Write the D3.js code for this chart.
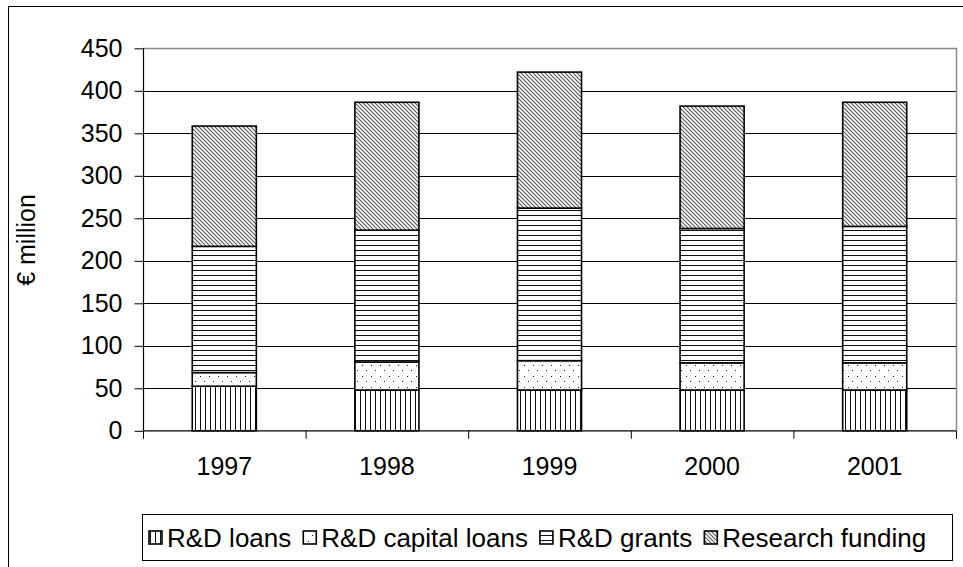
<!DOCTYPE html>
<html><head><meta charset="utf-8">
<script src="https://cdn.jsdelivr.net/npm/d3@7"></script>
<style>
body{margin:0;background:#fff}
svg{display:block}
text{font-family:"Liberation Sans",Arial,sans-serif;fill:#000}
</style>
</head><body>
<svg id="c" width="963" height="567"></svg>
<script>
const years = ["1997", "1998", "1999", "2000", "2001"];
const seriesNames = ["R&D loans", "R&D capital loans", "R&D grants", "Research funding"];
const rdLoans = [52.5, 48, 48, 48, 48];
const rdCapitalLoans = [16, 33, 34.5, 32, 32];
const rdGrants = [148.5, 155, 179.5, 158, 160.5];
const researchFunding = [141.5, 150.5, 160, 144, 146];
const yTicks = [0, 50, 100, 150, 200, 250, 300, 350, 400, 450];
const yTitle = "€ million";

const svg = d3.select("#c");
const L = 143, R = 956, T = 48.3, B = 430.8;

const table = years.map((y, i) => ({
  year: y,
  "R&D loans": rdLoans[i],
  "R&D capital loans": rdCapitalLoans[i],
  "R&D grants": rdGrants[i],
  "Research funding": researchFunding[i]
}));

const x = d3.scaleBand().domain(years).range([L, R]).paddingInner(0.606).paddingOuter(0.303);
const y = d3.scaleLinear().domain([0, 450]).range([B, T]);

// patterns
const defs = svg.append("defs");
const pV = defs.append("pattern").attr("id", "pLoans").attr("patternUnits", "userSpaceOnUse")
  .attr("width", 5).attr("height", 10);
pV.append("rect").attr("width", 5).attr("height", 10).attr("fill", "#fff");
pV.append("line").attr("x1", 0.5).attr("x2", 0.5).attr("y1", 0).attr("y2", 10).attr("stroke", "#111").attr("stroke-width", 1);

const pD = defs.append("pattern").attr("id", "pCap").attr("patternUnits", "userSpaceOnUse")
  .attr("width", 9).attr("height", 11);
pD.append("rect").attr("width", 9).attr("height", 11).attr("fill", "#fff");
pD.append("rect").attr("x", 2).attr("y", 2).attr("width", 1).attr("height", 1).attr("fill", "#222");
pD.append("rect").attr("x", 6).attr("y", 7).attr("width", 1).attr("height", 1).attr("fill", "#222");

const pH = defs.append("pattern").attr("id", "pGrants").attr("patternUnits", "userSpaceOnUse")
  .attr("width", 10).attr("height", 5);
pH.append("rect").attr("width", 10).attr("height", 5).attr("fill", "#fff");
pH.append("line").attr("x1", 0).attr("x2", 10).attr("y1", 0.5).attr("y2", 0.5).attr("stroke", "#111").attr("stroke-width", 1);

const pR = defs.append("pattern").attr("id", "pRes").attr("patternUnits", "userSpaceOnUse")
  .attr("width", 4).attr("height", 4);
pR.append("rect").attr("width", 4).attr("height", 4).attr("fill", "#fff");
pR.append("path").attr("d", "M-1,-1L5,5M-1,3L1,5M3,-1L5,1").attr("stroke", "#555").attr("stroke-width", 1.1);

const fills = {"R&D loans": "url(#pLoans)", "R&D capital loans": "url(#pCap)", "R&D grants": "url(#pGrants)", "Research funding": "url(#pRes)"};

// outer border
svg.append("rect").attr("x", 8.5).attr("y", 6.5).attr("width", 1000).attr("height", 1000)
  .attr("fill", "none").attr("stroke", "#000").attr("stroke-width", 1);

// gridlines
svg.append("g").selectAll("line").data(yTicks.filter(t => t > 0 && t < 450)).join("line")
  .attr("x1", L).attr("x2", R).attr("y1", d => Math.round(y(d)) + 0.5).attr("y2", d => Math.round(y(d)) + 0.5)
  .attr("stroke", "#000").attr("stroke-width", 1);

// plot border top/right
svg.append("path").attr("d", `M${L},${Math.round(T) + 0.5}H${R + 0.5}V${B}`)
  .attr("fill", "none").attr("stroke", "#888").attr("stroke-width", 1.5);

// bars
const stack = d3.stack().keys(seriesNames)(table);
svg.append("g").selectAll("g").data(stack).join("g")
  .attr("fill", d => fills[d.key])
  .selectAll("rect").data(d => d).join("rect")
  .attr("x", d => x(d.data.year))
  .attr("width", x.bandwidth())
  .attr("y", d => y(d[1]))
  .attr("height", d => y(d[0]) - y(d[1]))
  .attr("stroke", "#000").attr("stroke-width", 1.6);

// y axis
const yAxis = d3.axisLeft(y).tickValues(yTicks).tickSize(9).tickPadding(12).tickFormat(d3.format("d"));
const gy = svg.append("g").attr("transform", `translate(${L + 0.5},0)`).call(yAxis);
gy.select(".domain").attr("stroke", "#000").attr("stroke-width", 1.2).attr("d", `M0,${T}V${B}`);
gy.selectAll(".tick line").attr("stroke", "#000");
gy.selectAll(".tick text").style("font-size", "25px").style("font-family", '"Liberation Sans",Arial,sans-serif').attr("fill", "#000");

// x axis
const xAxis = d3.axisBottom(x).tickSize(0).tickPadding(26);
const gx = svg.append("g").attr("transform", `translate(0,${B})`).call(xAxis);
gx.select(".domain").attr("stroke", "#000").attr("stroke-width", 1.2).attr("d", `M${L},0H${R}`);
gx.selectAll(".tick text").style("font-size", "25px").style("font-family", '"Liberation Sans",Arial,sans-serif').attr("fill", "#000");
// category boundary ticks
const step = x.step();
svg.append("g").selectAll("line").data(d3.range(years.length + 1)).join("line")
  .attr("x1", i => L + 0.5 + i * step).attr("x2", i => L + 0.5 + i * step)
  .attr("y1", B).attr("y2", B + 8).attr("stroke", "#000").attr("stroke-width", 1);

// y title
svg.append("text").attr("transform", "translate(35,240) rotate(-90)")
  .attr("text-anchor", "middle").style("font-size", "25px").text(yTitle);

// legend
const lg = svg.append("g");
lg.append("rect").attr("x", 142.5).attr("y", 514.5).attr("width", 810).attr("height", 46)
  .attr("fill", "#fff").attr("stroke", "#000").attr("stroke-width", 1);
let lx = 149;
const ly = 537.5;
seriesNames.forEach((name) => {
  lg.append("rect").attr("x", lx).attr("y", ly - 6.5).attr("width", 13).attr("height", 13)
    .attr("fill", fills[name]).attr("stroke", "#000").attr("stroke-width", 1.6);
  const t = lg.append("text").attr("x", lx + 18).attr("y", ly).attr("dy", "0.35em")
    .style("font-size", "26px").text(name);
  lx += 18 + t.node().getComputedTextLength() + 12;
});
</script>
</body></html>
